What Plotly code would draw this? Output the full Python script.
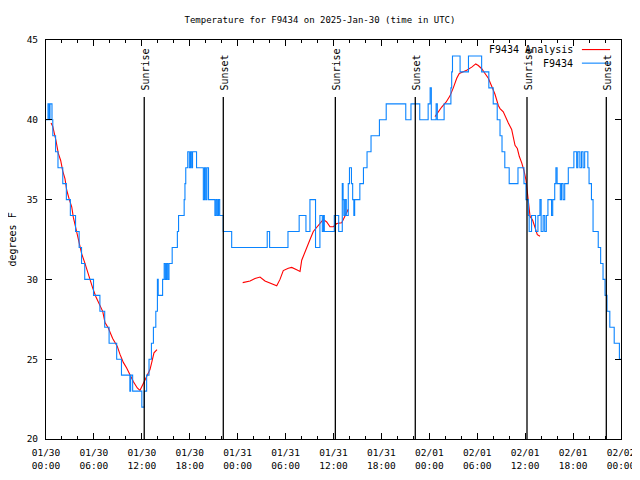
import plotly.graph_objects as go
import pandas as pd

title_text = "Temperature for F9434 on 2025-Jan-30 (time in UTC)"
start_time = "2025-01-30 00:00"
span_hours = 72

# Observed station temperature (F9434): change points (hours after start, degrees F)
obs_hours = [0.0, 0.25, 0.4, 0.5, 0.75, 0.85, 1.2, 1.5, 2.1, 2.55, 3.05, 3.7, 4.15, 4.45, 4.85,
             5.95, 6.75, 7.35, 7.9, 8.85, 9.45, 10.5, 10.6, 10.85, 12.0, 12.3, 12.6, 12.9, 13.2,
             13.45, 13.75, 13.95, 14.05, 14.6, 14.8, 14.95, 15.1, 15.25, 15.4, 15.8, 16.45, 16.6,
             17.3, 17.4, 17.5, 17.75, 17.95, 18.1, 18.25, 18.35, 18.85, 19.7, 19.85, 20.0, 20.15,
             20.35, 21.15, 21.3, 21.45, 21.6, 21.75, 22.2, 23.25, 27.7, 28.0, 30.3, 31.7, 32.55,
             33.05, 33.75, 34.3, 34.6, 34.75, 34.85, 36.1, 36.65, 37.1, 37.2, 37.3, 37.45, 37.6,
             37.85, 38.0, 38.25, 38.4, 38.55, 38.65, 39.3, 39.75, 40.2, 40.7, 41.75, 42.6, 45.05,
             45.7, 46.8, 47.85, 48.1, 48.25, 48.85, 49.0, 49.85, 50.7, 50.8, 50.9, 51.85, 52.9,
             54.55, 55.45, 56.0, 56.5, 56.85, 57.1, 57.45, 58.0, 59.1, 59.85, 60.1, 60.4, 60.5,
             60.8, 61.3, 61.6, 61.85, 62.0, 62.25, 62.45, 62.65, 62.85, 63.3, 63.45, 63.7, 63.85,
             64.0, 64.4, 64.55, 64.75, 64.95, 65.4, 66.1, 66.45, 66.6, 66.85, 67.05, 67.25, 67.45,
             67.85, 68.0, 68.3, 68.5, 69.15, 69.45, 69.75, 70.0, 70.25, 70.6, 71.15, 71.8, 72.0]
obs_temps = [40, 41, 40, 41, 40, 39, 38, 37, 36, 35, 34, 33, 32, 31, 30,
             29, 28, 27, 26, 25, 24, 23, 24, 23, 22, 23, 24, 25, 26,
             27, 28, 30, 29, 30, 31, 30, 31, 30, 31, 32, 33, 34,
             35, 36, 37, 38, 37, 38, 37, 38, 37, 35, 37, 35, 37,
             35, 34, 35, 34, 35, 34, 33, 32, 33, 32, 33, 34, 33,
             35, 32, 34, 33, 34, 33, 34, 33, 36, 35, 34, 35, 34,
             36, 37, 36, 35, 34, 35, 36, 37, 38, 39, 40, 41, 40,
             41, 40, 41, 42, 40, 41, 40, 41, 42, 43, 44, 43, 44,
             43, 42, 41, 40, 39, 38, 37, 36, 37, 36, 35, 34, 33,
             34, 33, 34, 35, 33, 34, 33, 34, 35, 34, 35, 36, 37,
             36, 35, 36, 35, 36, 37, 38, 37, 38, 37, 38, 37, 38,
             37, 36, 35, 33, 32, 31, 30, 29, 28, 27, 26, 25, 25]

# Analysis temperature (F9434 Analysis), None = gap
ana_hours = [0.63, 0.84, 1.25, 1.54, 1.84, 2.09, 2.38, 2.59, 2.92, 3.22, 3.42, 3.76, 4.04, 4.47,
             4.88, 5.42, 5.85, 6.26, 6.67, 7.1, 7.39, 7.8, 8.35, 8.93, 9.27, 9.68, 10.1, 10.52,
             10.93, 11.43, 11.77, 12.11, 12.4, 12.68, 13.02, 13.24, 13.52, 13.9,
             None,
             24.63, 25.55, 26.17, 26.8, 27.42, 28.26, 28.89, 29.3, 29.71, 30.34, 30.77, 31.39,
             31.81, 32.02, 32.34, 32.64, 33.06, 33.47, 34.1, 34.72, 35.15, 35.56, 35.98, 36.4,
             37.03, 37.44, 37.85,
             None,
             48.71, 49.12, 49.55, 50.09, 50.59, 51.0, 51.43, 51.75, 52.25, 52.68, 53.31, 53.81,
             54.13, 54.56, 54.97, 55.39, 55.81, 56.22, 56.64, 56.85, 57.26, 57.6, 57.89, 58.31,
             58.73, 59.02, 59.27, 59.57, 59.86, 60.11, 60.27, 60.39, 60.61, 60.94, 61.23, 61.52,
             61.86]
ana_temps = [39.8, 39.6, 38.7, 37.9, 37.45, 36.8, 36.3, 35.6, 35.0, 34.55, 33.9, 33.1, 32.6, 31.6,
             31.0, 30.1, 29.45, 28.9, 28.4, 28.0, 27.3, 26.95, 26.3, 25.8, 25.3, 24.8, 24.45, 24.0,
             23.6, 23.2, 23.05, 23.4, 23.7, 24.0, 24.35, 24.8, 25.4, 25.6,
             None,
             29.8, 29.9, 30.05, 30.15, 29.9, 29.75, 29.6, 30.0, 30.55, 30.7, 30.75, 30.6,
             30.5, 31.2, 31.6, 32.1, 32.5, 33.0, 33.4, 33.76, 33.6, 33.3, 33.3, 33.5,
             33.55, 33.95, 34.4,
             None,
             40.2, 40.5, 40.8, 41.1, 41.5, 42.0, 42.6, 42.9, 43.0, 43.1, 43.3, 43.5,
             43.4, 43.2, 42.9, 42.6, 42.1, 41.6, 40.9, 40.7, 40.5, 40.1, 39.8, 39.4,
             38.4, 38.2, 37.7, 37.3, 36.8, 36.2, 35.4, 34.8, 33.95, 33.7, 33.3, 32.8,
             32.7]

sun_event_hours = [12.3, 22.2, 36.23, 46.24, 60.23, 70.16]
sun_event_names = ["Sunrise", "Sunset", "Sunrise", "Sunset", "Sunrise", "Sunset"]

y_range = [20, 45]
y_dtick = 5
series_names = ["F9434 Analysis", "F9434"]
series_colors = ["#ff0000", "#0a84ff"]

base = pd.Timestamp(start_time)


def to_time(hours):
    return [None if h is None else base + pd.Timedelta(hours=h) for h in hours]


FONT = "DejaVu Sans Mono"
# page body has an 8px margin, so the figure is placed at (8, 8)
W, H = 632, 464
L, T = 38, 31.5
PW, PH = 575, 400

fig = go.Figure()
fig.add_trace(go.Scatter(x=to_time(ana_hours), y=ana_temps, mode="lines",
                         line=dict(color=series_colors[0], width=1.1),
                         connectgaps=False, name=series_names[0], showlegend=False))
fig.add_trace(go.Scatter(x=to_time(obs_hours), y=obs_temps, mode="lines",
                         line=dict(color=series_colors[1], width=1.1, shape="hv"),
                         name=series_names[1], showlegend=False))

shapes = []
annotations = []
for h, name in zip(sun_event_hours, sun_event_names):
    t = base + pd.Timedelta(hours=h)
    shapes.append(dict(type="line", xref="x", yref="paper", x0=t, x1=t, y0=0, y1=0.857,
                       line=dict(color="black", width=1.3)))
    annotations.append(dict(x=t, xref="x", y=0.869, yref="paper", text=name, textangle=-90,
                            showarrow=False, xanchor="center", yanchor="bottom", xshift=1,
                            font=dict(family=FONT, size=10, color="black")))

# legend drawn gnuplot-style: text, then line sample
leg_y = [0.976, 0.942]
for name, color, yy in zip(series_names, series_colors, leg_y):
    annotations.append(dict(x=0.92, xref="paper", y=yy, yref="paper", text=name,
                            showarrow=False, xanchor="right", yanchor="middle",
                            font=dict(family=FONT, size=10, color="black")))
    shapes.append(dict(type="line", xref="paper", yref="paper", x0=0.932, x1=0.981,
                       y0=yy, y1=yy, line=dict(color=color, width=1.1)))

annotations.append(dict(x=(4 - L) / PW, xref="paper", y=0.5, yref="paper", text="degrees F",
                        textangle=-90, showarrow=False, xanchor="center", yanchor="middle",
                        font=dict(family=FONT, size=10, color="black")))

fig.update_layout(
    width=W, height=H,
    margin=dict(l=L, r=W - L - PW, t=T, b=H - T - PH, autoexpand=False),
    paper_bgcolor="white", plot_bgcolor="white",
    title=dict(text=title_text, x=312 / W, xanchor="center", y=1 - 12 / H,
               yanchor="middle", yref="container",
               font=dict(family=FONT, size=9, color="black")),
    shapes=shapes, annotations=annotations, showlegend=False,
    xaxis=dict(type="date", range=[base, base + pd.Timedelta(hours=span_hours)],
               tick0=base, dtick=6 * 3600000, tickformat="%m/%d<br>%H:%M",
               ticks="inside", ticklen=6, tickcolor="black", showline=True,
               linecolor="black", linewidth=1, mirror="ticks", showgrid=False,
               zeroline=False, ticklabelstandoff=5, ticklabeloverflow="allow",
               tickfont=dict(family=FONT, size=9.5, color="black"),
               minor=dict(dtick=2 * 3600000, ticks="inside", ticklen=3, tickcolor="black",
                          showgrid=False)),
    yaxis=dict(range=y_range, dtick=y_dtick, ticks="inside", ticklen=6, tickcolor="black",
               showline=True, linecolor="black", linewidth=1, mirror="ticks",
               showgrid=False, zeroline=False, ticklabelstandoff=5,
               tickfont=dict(family=FONT, size=9.5, color="black")),
)

fig.write_html("out.html")
